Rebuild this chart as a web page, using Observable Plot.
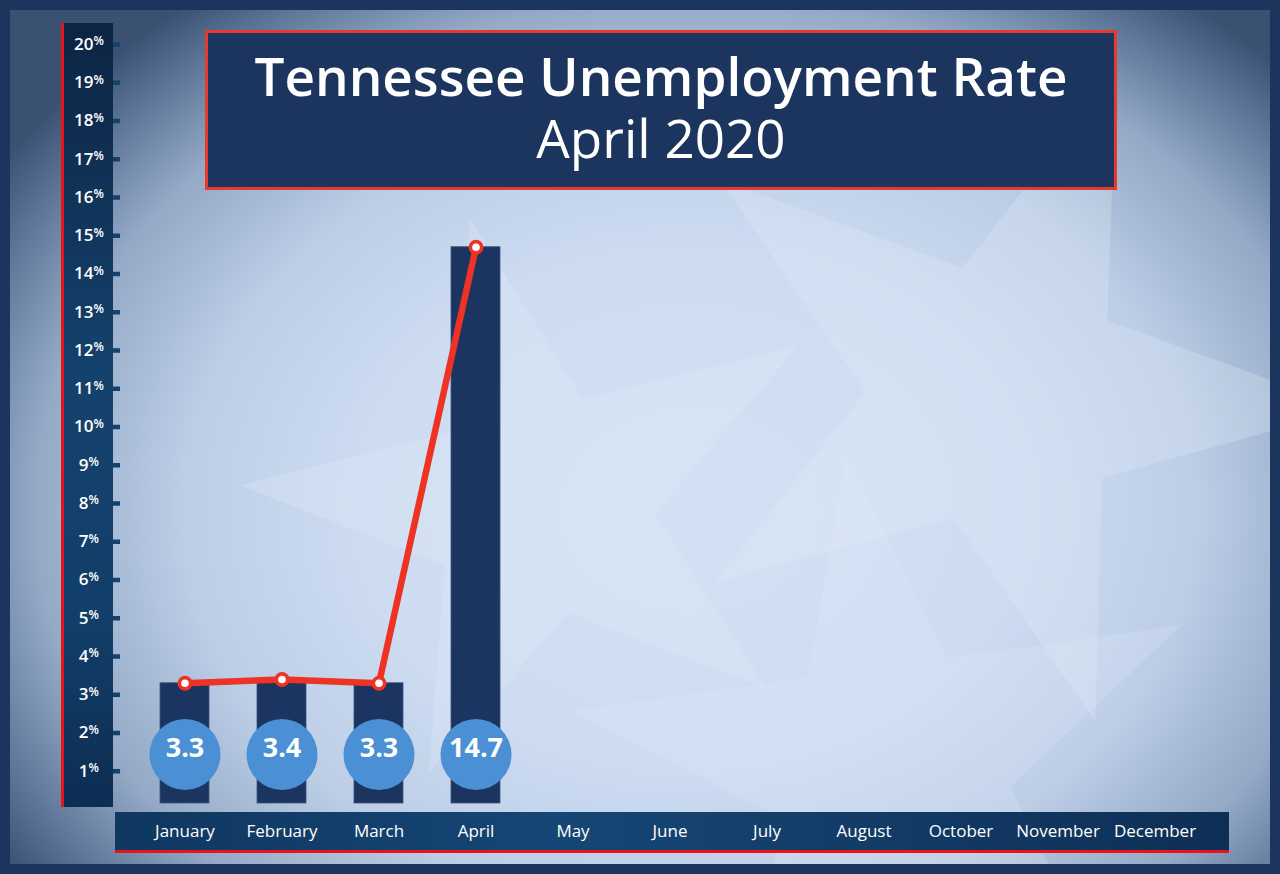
<!DOCTYPE html>
<html>
<head>
<meta charset="utf-8">
<script src="https://cdn.jsdelivr.net/npm/d3@7"></script>
<script src="https://cdn.jsdelivr.net/npm/@observablehq/plot@0.6"></script>
<style>
  html, body { margin: 0; padding: 0; }
  body { width: 1280px; height: 874px; background: #1c355e; position: relative; overflow: hidden; font-family: "Open Sans", sans-serif; }
  #bg { position: absolute; left: 10px; top: 10px; width: 1260px; height: 854px; overflow: hidden;
        background: radial-gradient(ellipse 820px 640px at 680px 500px, #d3e1f4 0%, #cddcf1 40%, #bccde6 62%, #93a9c6 80%, #5d7597 92%, #3a5172 100%); }
  #bg .ring { position: absolute; left: 20px; top: -170px; width: 1220px; height: 1220px; border-radius: 50%;
        background: radial-gradient(circle, rgba(215,228,245,0) 88%, rgba(215,228,245,0.18) 96%, rgba(215,228,245,0) 100%); }
  .star { position: absolute; clip-path: polygon(50% 0%, 61% 35%, 98% 35%, 68% 57%, 79% 91%, 50% 70%, 21% 91%, 32% 57%, 2% 35%, 39% 35%); }
  #ypanel { position: absolute; left: 61px; top: 23px; width: 49px; height: 784px;
        background: linear-gradient(180deg, #0d2443 0%, #14426d 45%, #123f6a 75%, #0d2d52 100%);
        border-left: 3px solid #e8141b; }
  #xband { position: absolute; left: 115px; top: 812px; width: 1114px; height: 38px;
        background: linear-gradient(90deg, #0f3760 0%, #164675 40%, #0e2f55 100%);
        border-bottom: 3px solid #e8141b; }
  #title { position: absolute; left: 205px; top: 30px; width: 906px; height: 154px; background: #1c355e;
        border: 3px solid #e63a2c; color: #fff; text-align: center; }
  #title .t1 { font-size: 53px; font-weight: 600; line-height: 62px; margin-top: 12px; }
  #title .t2 { font-size: 53px; font-weight: 400; line-height: 62px; margin-top: 0px; }
  #chart { position: absolute; left: 0; top: 0; }
</style>
</head>
<body>
<div id="bg">
  <div class="ring"></div>
  <div class="star" style="left:230px; top:200px; width:600px; height:580px; background:rgba(228,237,249,0.28); transform: rotate(-14deg);"></div>
  <div class="star" style="left:640px; top:40px; width:700px; height:680px; background:rgba(228,237,249,0.28); transform: rotate(20deg);"></div>
  <div class="star" style="left:560px; top:440px; width:640px; height:620px; background:rgba(228,237,249,0.22); transform: rotate(-8deg);"></div>
</div>
<div id="ypanel"></div>
<div id="xband"></div>
<div id="title">
  <div class="t1">Tennessee Unemployment Rate</div>
  <div class="t2">April 2020</div>
</div>
<div id="chart"></div>
<script>
const months = ["January","February","March","April","May","June","July","August","October","November","December"];
const dataMonths = ["January","February","March","April"];
const rates = [3.3, 3.4, 3.3, 14.7];
const yTicks = [1,2,3,4,5,6,7,8,9,10,11,12,13,14,15,16,17,18,19,20];

const data = dataMonths.map((m, i) => ({month: m, value: rates[i]}));
const ticksOne = yTicks.filter(d => d < 10);
const ticksTwo = yTicks.filter(d => d >= 10);

const navy = "#1b3560";
const red = "#ee3224";
const blue = "#4b8fd4";
const white = "#ffffff";

const chart = Plot.plot({
  width: 1280,
  height: 874,
  marginLeft: 113,
  marginRight: 55,
  marginTop: 44,
  marginBottom: 65,
  style: {background: "transparent", fontFamily: "'Open Sans', sans-serif", overflow: "visible"},
  x: {type: "band", domain: months, paddingInner: 0.5, paddingOuter: 0.458, label: null},
  y: {domain: [0, 20], label: null},
  marks: [
    // small tick marks on the y axis panel edge
    Plot.axisY({ticks: yTicks, tickSize: 7, dx: 7, strokeWidth: 4.5, stroke: "#15416c", tickFormat: () => "", label: null}),
    // y tick numbers (one digit / two digits, label group centred)
    Plot.text(ticksOne, {y: d => d, text: d => String(d), frameAnchor: "left", dx: -25, textAnchor: "end", fontSize: 17, fontWeight: 600, fill: white}),
    Plot.text(ticksOne, {y: d => d, text: () => "%", frameAnchor: "left", dx: -25, dy: -3, textAnchor: "start", fontSize: 12, fontWeight: 600, fill: white}),
    Plot.text(ticksTwo, {y: d => d, text: d => String(d), frameAnchor: "left", dx: -20, textAnchor: "end", fontSize: 17, fontWeight: 600, fill: white}),
    Plot.text(ticksTwo, {y: d => d, text: () => "%", frameAnchor: "left", dx: -20, dy: -3, textAnchor: "start", fontSize: 12, fontWeight: 600, fill: white}),
    // month labels
    Plot.axisX({tickSize: 0, tickPadding: 15, fill: white, fontSize: 17, label: null}),
    // bars
    Plot.barY(data, {x: "month", y: "value", fill: navy, stroke: "#3a5680", strokeWidth: 0.8, insetBottom: 6}),
    // red line
    Plot.line(data, {x: "month", y: "value", stroke: red, strokeWidth: 6.5, strokeLinejoin: "round", strokeLinecap: "round"}),
    Plot.dot(data, {x: "month", y: "value", r: 7.5, fill: red}),
    Plot.dot(data, {x: "month", y: "value", r: 3.8, fill: white}),
    // value badges
    Plot.dot(data, {x: "month", frameAnchor: "bottom", dy: -55, r: 35.5, fill: blue}),
    Plot.text(data, {x: "month", frameAnchor: "bottom", dy: -53, text: d => d.value.toFixed(1), fill: white, fontSize: 27, fontWeight: 700, letterSpacing: "-1px"})
  ]
});
document.getElementById("chart").appendChild(chart);
</script>
</body>
</html>
